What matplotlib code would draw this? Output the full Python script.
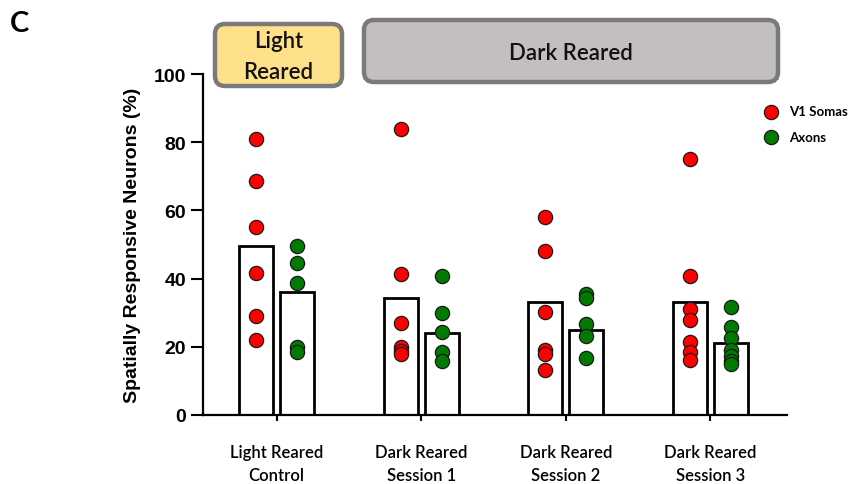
import numpy as np
import matplotlib
matplotlib.use('Agg')
import matplotlib.pyplot as plt
from matplotlib.patches import FancyBboxPatch

# Per-condition values (% spatially responsive neurons)
groups = ['Light Reared\nControl', 'Dark Reared\nSession 1',
          'Dark Reared\nSession 2', 'Dark Reared\nSession 3']
soma_mean = [49.6, 34.3, 33.1, 33.1]
axon_mean = [36.0, 24.0, 25.0, 21.0]
soma_points = [
    [81.0, 68.6, 55.0, 41.6, 29.0, 22.0],
    [84.0, 41.3, 27.0, 19.8, 18.7, 17.8],
    [58.0, 48.0, 30.2, 19.0, 18.0, 13.2],
    [75.0, 40.8, 31.0, 28.0, 21.4, 18.6, 16.2],
]
axon_points = [
    [49.6, 44.6, 38.7, 20.0, 18.5],
    [40.8, 30.0, 24.2, 18.5, 15.8],
    [35.5, 34.3, 26.7, 23.2, 16.7],
    [31.7, 25.8, 22.6, 19.0, 17.4, 15.8, 15.0],
]
yticks = [0, 20, 40, 60, 80, 100]

W, H = 855, 485
fig = plt.figure(figsize=(W / 100, H / 100), dpi=100)
ax = fig.add_axes([203 / W, (H - 416) / H, 584 / W, 341 / H])
ax.patch.set_visible(False)

x = np.arange(len(groups))
offset = 0.141
width = 0.235

ax.bar(x - offset, soma_mean, width, facecolor='white', edgecolor='black',
       linewidth=2.0, zorder=2)
ax.bar(x + offset, axon_mean, width, facecolor='white', edgecolor='black',
       linewidth=2.0, zorder=2)

for i in range(len(groups)):
    ax.scatter(np.full(len(soma_points[i]), x[i] - offset), soma_points[i],
               s=105, facecolor='#ff0000', edgecolor='#1a1a1a', linewidth=0.9,
               zorder=3, label='V1 Somas' if i == 0 else None)
    ax.scatter(np.full(len(axon_points[i]), x[i] + offset), axon_points[i],
               s=105, facecolor='#007a00', edgecolor='#1a1a1a', linewidth=0.9,
               zorder=3, label='Axons' if i == 0 else None)

ax.set_xlim(-0.51, 3.53)
ax.set_ylim(0, 100)
ax.set_yticks(yticks)
ax.set_xticks(x)
ax.set_xticklabels(groups, fontsize=12, family='Lato', fontweight='semibold',
                   linespacing=1.5)
for lbl in ax.get_yticklabels():
    lbl.set_fontsize(14)
    lbl.set_fontweight('bold')
    lbl.set_family('Liberation Sans')
ax.tick_params(axis='y', length=9, width=1.5, pad=3)
ax.tick_params(axis='x', length=4, width=1.5, pad=17)
for side in ('top', 'right'):
    ax.spines[side].set_visible(False)
for side in ('left', 'bottom'):
    ax.spines[side].set_linewidth(1.6)
ax.set_ylabel('Spatially Responsive Neurons (%)', fontsize=14,
              family='Liberation Sans', fontweight='bold', labelpad=9)

ax.legend(loc='upper left', bbox_to_anchor=(758 / W, (H - 106) / H),
          bbox_transform=fig.transFigure, frameon=False,
          prop={'family': 'Lato', 'size': 9.5, 'weight': 'bold'},
          handletextpad=0.35, labelspacing=1.05, borderaxespad=0, borderpad=0)

# header boxes drawn in pixel coordinates over the whole figure
over = fig.add_axes([0, 0, 1, 1], zorder=5)
over.set_xlim(0, W)
over.set_ylim(0, H)
over.axis('off')
boxes = [
    (215, 342, 25, 87, '#ffe08a', 'Light\nReared'),
    (364, 778, 21, 83, '#c3bfbe', 'Dark Reared'),
]
for x0, x1, y0, y1, fc, txt in boxes:
    over.add_patch(FancyBboxPatch((x0, H - y1), x1 - x0, y1 - y0,
                                  boxstyle='round,pad=0,rounding_size=10',
                                  facecolor=fc, edgecolor='#7a7a7a',
                                  linewidth=3.2))
    over.text((x0 + x1) / 2, H - (y0 + y1) / 2 - 1, txt, ha='center',
              va='center', fontsize=16, family='Lato', fontweight='semibold',
              linespacing=1.6, color='#111111')

fig.text(19 / W, 1 - 24 / H, 'C', fontsize=21, fontweight='bold',
         family='Lato', ha='center', va='center')

fig.savefig('out.png', dpi=100)
